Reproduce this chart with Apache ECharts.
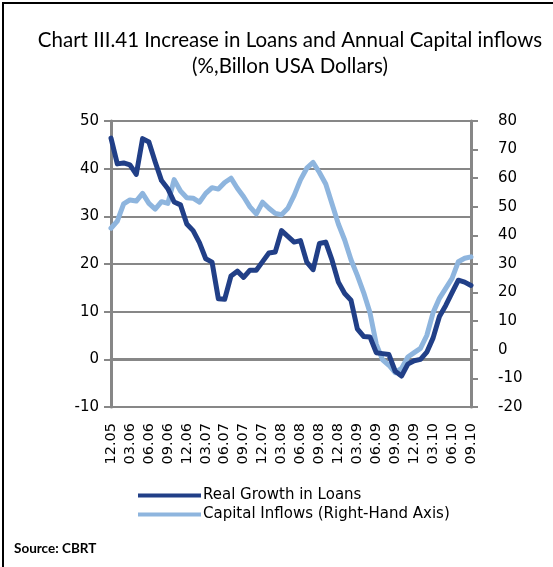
<!DOCTYPE html>
<html><head><meta charset="utf-8">
<script src="https://cdn.jsdelivr.net/npm/echarts@6/dist/echarts.min.js"></script>
<style>html,body{margin:0;padding:0;background:#fff}#c{width:553px;height:567px}</style>
</head><body><div id="c"></div>
<script>
const months = ["12.05","01.06","02.06","03.06","04.06","05.06","06.06","07.06","08.06","09.06","10.06","11.06",
"12.06","01.07","02.07","03.07","04.07","05.07","06.07","07.07","08.07","09.07","10.07","11.07",
"12.07","01.08","02.08","03.08","04.08","05.08","06.08","07.08","08.08","09.08","10.08","11.08",
"12.08","01.09","02.09","03.09","04.09","05.09","06.09","07.09","08.09","09.09","10.09","11.09",
"12.09","01.10","02.10","03.10","04.10","05.10","06.10","07.10","08.10","09.10"];
const loans = [46.4,41,41.2,40.8,38.8,46.3,45.6,41.4,37.5,35.8,33.0,32.4,
28.4,27,24.5,21.1,20.4,12.7,12.6,17.5,18.5,17.2,18.7,18.7,
20.5,22.3,22.5,27,25.8,24.6,24.9,20.4,18.8,24.3,24.6,20.8,
16.2,13.8,12.4,6.4,4.8,4.7,1.4,1.2,1.0,-2.5,-3.5,-1.0,
-0.3,0.0,1.5,4.5,9,11.3,14,16.6,16.2,15.5];
const inflows = [42.5,45,51,52.4,52,54.7,51.2,49.2,51.8,51.2,59.5,55.5,
53.2,53,51.6,54.7,56.7,56.2,58.5,60,56.5,53.5,50,47.5,
51.6,49.5,47.7,47.2,49.5,54,59.4,63.5,65.5,62,58,51,
44,38.4,31.5,26,20,13,2,-3.5,-5.4,-8,-6.5,-2.5,
-1,0.5,5,13,18,21.5,25,30.8,32,32.5];
const leftTicks = {min:-10, max:50, interval:10};
const rightTicks = {min:-20, max:80, interval:10};

const TFONT = 'Lato';
const AFONT = 'DejaVu Sans';
const chart = echarts.init(document.getElementById('c'), null, {renderer:'canvas'});
chart.setOption({
  animation:false,
  backgroundColor:'#fff',
  title:{
    text:'Chart III.41 Increase in Loans and Annual Capital inflows\n(%,Billon USA Dollars)',
    left:285, top:22, textAlign:'center',
    textStyle:{fontFamily:TFONT, fontSize:20.5, fontWeight:'normal', color:'#000', lineHeight:26}
  },
  legend:{
    orient:'vertical', left:133, top:483, itemWidth:63, itemHeight:4, itemGap:4,
    icon:'rect',
    textStyle:{fontFamily:AFONT, fontSize:15, color:'#000', padding:[0,0,0,-3]},
    data:['Real Growth in Loans','Capital Inflows (Right-Hand Axis)']
  },
  grid:{left:111, right:82, top:121, bottom:160, containLabel:false},
  xAxis:{
    type:'category', data:months, boundaryGap:false,
    axisLine:{lineStyle:{color:'#878787', width:3}},
    axisTick:{show:false},
    axisLabel:{interval:2, rotate:90, margin:16, fontFamily:AFONT, fontSize:14.5, color:'#000'},
    splitLine:{show:false}
  },
  yAxis:[{
    type:'value', position:'left', min:leftTicks.min, max:leftTicks.max, interval:leftTicks.interval,
    axisLine:{show:true, lineStyle:{color:'#878787', width:3}},
    axisTick:{show:true, length:7, lineStyle:{color:'#878787', width:2}},
    axisLabel:{margin:12, fontFamily:AFONT, fontSize:15, color:'#000'},
    splitLine:{show:true, lineStyle:{color:'#878787', width:2}}
  },{
    type:'value', position:'right', min:rightTicks.min, max:rightTicks.max, interval:rightTicks.interval,
    axisLine:{show:true, lineStyle:{color:'#878787', width:3}},
    axisTick:{show:true, length:7, lineStyle:{color:'#878787', width:2}},
    axisLabel:{margin:27, fontFamily:AFONT, fontSize:15, color:'#000'},
    splitLine:{show:false}
  }],
  series:[{
    name:'Real Growth in Loans', type:'line', yAxisIndex:0, data:loans,
    symbol:'none', z:3,
    lineStyle:{color:'#213F87', width:5, join:'round', cap:'round'},
    itemStyle:{color:'#213F87'}
  },{
    name:'Capital Inflows (Right-Hand Axis)', type:'line', yAxisIndex:1, data:inflows,
    symbol:'none', z:2,
    lineStyle:{color:'#8EB5DE', width:5, join:'round', cap:'round'},
    itemStyle:{color:'#8EB5DE'}
  }],
  graphic:[
    {type:'polyline', shape:{points:[[3,567],[3,3],[553,3]]}, style:{stroke:'#000', lineWidth:2, fill:null}},
    {type:'text', left:14, top:542, style:{text:'Source: CBRT', fontFamily:TFONT, fontSize:13.5, fontWeight:'bold', fill:'#000'}}
  ]
});
</script></body></html>
